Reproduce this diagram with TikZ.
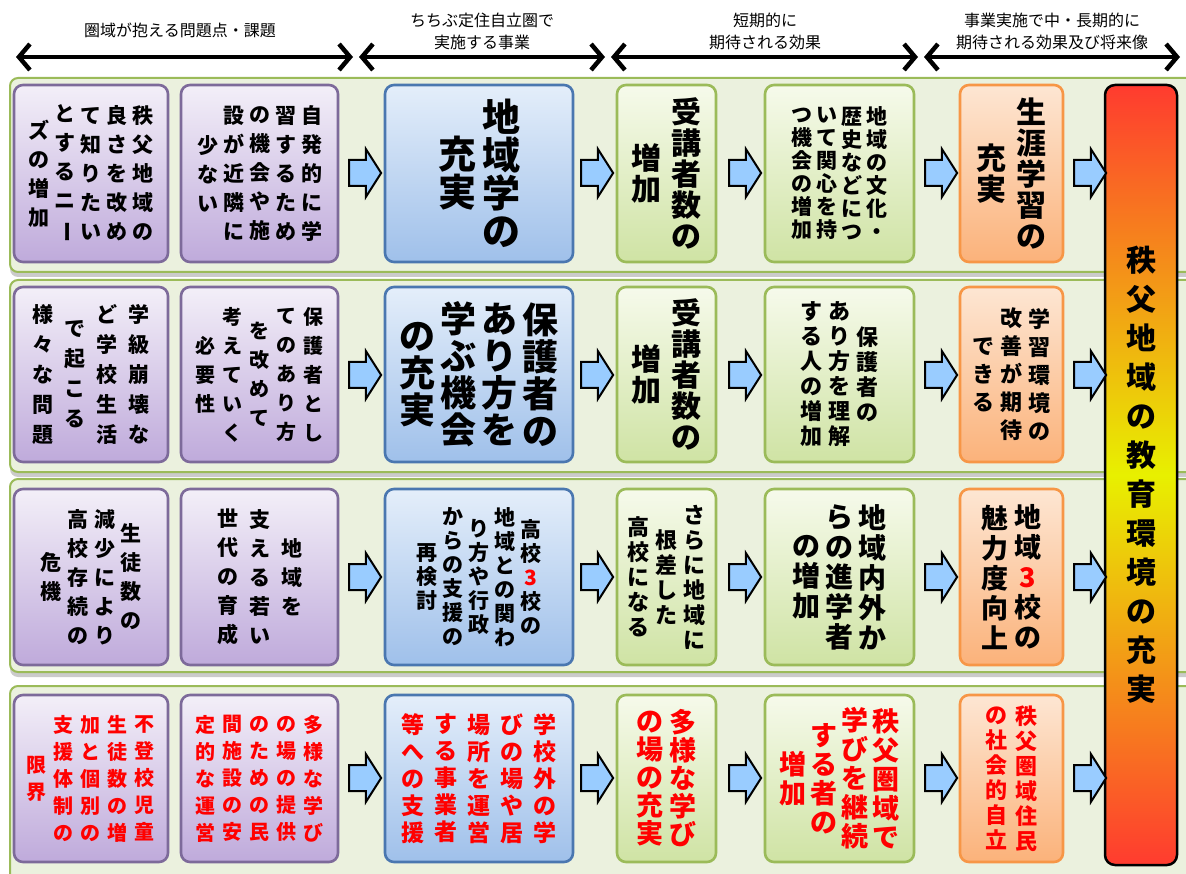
\documentclass[tikz,border=0pt]{standalone}
\usepackage{fontspec}
\setmainfont{Noto Sans CJK JP}
\usepackage{graphicx}
\usetikzlibrary{arrows.meta,shapes.arrows,shadows}
\definecolor{pTop}{HTML}{F3EFF8}
\definecolor{pBot}{HTML}{BFAADB}
\definecolor{pBor}{HTML}{7D6A9A}
\definecolor{bTop}{HTML}{E4EEFA}
\definecolor{bBot}{HTML}{9FC0EA}
\definecolor{bBor}{HTML}{4A77B0}
\definecolor{gTop}{HTML}{F6FAEB}
\definecolor{gBot}{HTML}{CFE3A4}
\definecolor{gBor}{HTML}{9BBB59}
\definecolor{oTop}{HTML}{FDE6D3}
\definecolor{oBot}{HTML}{FBB27A}
\definecolor{oBor}{HTML}{F79646}
\definecolor{bandFill}{HTML}{EBF1DE}
\definecolor{bandBor}{HTML}{9BBB59}
\definecolor{arrFill}{HTML}{99CCFF}
\definecolor{bigRed}{HTML}{FF3B2F}
\definecolor{bigYel}{HTML}{E8F000}
\definecolor{txtRed}{HTML}{FF0000}
\makeatletter
\newbox\tateacc
\newcommand\tatecolx[3]{$\vcenter{\baselineskip=#2\lineskiplimit=-100pt\relax\lineskip=0pt\relax\@tfor\tt@x:=#1\do{\hbox to #3{\hss\tt@x\hss}}}$}
\newcommand\tate[4]{\begingroup\fontsize{#1}{#1}\selectfont\bfseries
  \setbox\tateacc=\hbox{}%
  \@tfor\tt@c:=#4\do{\setbox\tateacc=\hbox{\expandafter\tatecolx\expandafter{\tt@c}{#2}{#1}\ifdim\wd\tateacc>0pt\hskip\dimexpr#3-#1\relax\fi\unhbox\tateacc}}%
  \box\tateacc\endgroup}
\makeatother
\newcommand\nobar{{\rotatebox[origin=c]{-90}{ー}}}
\tikzset{
  band/.style={draw=bandBor, line width=2pt, fill=bandFill, rounded corners=8pt, inner sep=0pt,
     drop shadow={shadow xshift=0pt, shadow yshift=-5pt, fill=black!25, opacity=0.8}},
  tbox/.style={rounded corners=9pt, line width=2.6pt, inner sep=0pt},
  pbox/.style={tbox, draw=pBor, top color=pTop, bottom color=pBot},
  bbox/.style={tbox, draw=bBor, top color=bTop, bottom color=bBot},
  gbox/.style={tbox, draw=gBor, top color=gTop, bottom color=gBot},
  obox/.style={tbox, draw=oBor, top color=oTop, bottom color=oBot},
  bigbox/.style={rounded corners=10pt, line width=2.5pt, draw=black, inner sep=0pt,
     top color=bigRed, bottom color=bigRed, middle color=bigYel},
  barrow/.style={single arrow, draw=black, line width=2pt, fill=arrFill, inner sep=0pt,
     minimum height=32pt, single arrow head extend=11pt, single arrow tip angle=115},
  hdr/.style={font=\fontsize{16}{22}\selectfont, align=center, inner sep=0pt},
  harrow/.style={line width=4.5pt, {Straight Barb[length=11pt,width=26pt]}-{Straight Barb[length=11pt,width=26pt]}},
}
\newcommand\bx[7]{\node[#2, minimum width={#5-#3}, minimum height={#6-#4}] (#1) at ({(#3+#5)/2},{(#4+#6)/2}) {#7};}
\begin{document}
\begin{tikzpicture}[x=1pt,y=-1pt]
\useasboundingbox (0,0) rectangle (1186,874);
\fill[white] (0,0) rectangle (1186,874);
% header
\node[hdr] (h1) at (180,30) {圏域が抱える問題点・課題};
\node[hdr] (h2) at (482,31) {ちちぶ定住自立圏で\\実施する事業};
\node[hdr] (h3) at (765,31) {短期的に\\期待される効果};
\node[hdr] (h4) at (1052,31) {事業実施で中・長期的に\\期待される効果及び将来像};
\coordinate (ha0) at (16,57);
\coordinate (ha1) at (353,57);
\coordinate (ha2) at (359,57);
\coordinate (ha3) at (605,57);
\coordinate (ha4) at (611,57);
\coordinate (ha5) at (918,57);
\coordinate (ha6) at (924,57);
\coordinate (ha7) at (1180,57);
\draw[harrow] (ha0) -- (ha1);
\draw[harrow] (ha2) -- (ha3);
\draw[harrow] (ha4) -- (ha5);
\draw[harrow] (ha6) -- (ha7);
% bands
\bx{band1}{band}{10}{78}{1200}{272}{}
\bx{band2}{band}{10}{280}{1200}{472}{}
\bx{band3}{band}{10}{479}{1200}{672}{}
\bx{band4}{band}{10}{686}{1200}{890}{}
% row 1
\bx{p11}{pbox}{14}{85}{168}{262}{\tate{21pt}{29pt}{26pt}{{秩父地域の}{良さを改め}{て知りたい}{とするニ\nobar}{ズの増加}}}
\bx{p12}{pbox}{181}{85}{338}{262}{\tate{21pt}{29pt}{26pt}{{自発的に学}{習するため}{の機会や施}{設が近隣に}{少ない}}}
\bx{b1}{bbox}{385}{85}{573}{262}{\tate{38pt}{38pt}{44pt}{{地域学の}{充実}}}
\bx{g11}{gbox}{617}{85}{716}{262}{\tate{30pt}{31pt}{40pt}{{受講者数の}{増加}}}
\bx{g12}{gbox}{765}{85}{914}{262}{\tate{21pt}{23pt}{25pt}{{地域の文化・}{歴史などにつ}{いて関心を持}{つ機会の増加}}}
\bx{o1}{obox}{960}{85}{1063}{262}{\tate{30pt}{31pt}{40pt}{{生涯学習の}{充実}}}
% row 2
\bx{p21}{pbox}{14}{287}{168}{462}{\tate{21pt}{30pt}{32pt}{{学級崩壊な}{ど学校生活}{で起こる}{様々な問題}}}
\bx{p22}{pbox}{181}{287}{338}{462}{\tate{20pt}{29pt}{27pt}{{保護者とし}{てのあり方}{を改めて}{考えていく}{必要性}}}
\bx{b2}{bbox}{385}{287}{573}{462}{\tate{36pt}{37pt}{41pt}{{保護者の}{あり方を}{学ぶ機会}{の充実}}}
\bx{g21}{gbox}{617}{287}{716}{462}{\tate{30pt}{31pt}{40pt}{{受講者数の}{増加}}}
\bx{g22}{gbox}{765}{287}{914}{462}{\tate{22pt}{25pt}{28pt}{{保護者の}{あり方を理解}{する人の増加}}}
\bx{o2}{obox}{960}{287}{1063}{462}{\tate{22pt}{28pt}{28pt}{{学習環境の}{改善が期待}{できる}}}
% row 3
\bx{p31}{pbox}{14}{489}{168}{665}{\tate{21pt}{29pt}{27pt}{{生徒数の}{減少により}{高校存続の}{危機}}}
\bx{p32}{pbox}{181}{489}{338}{665}{\tate{21pt}{29pt}{32pt}{{地域を}{支える若い}{世代の育成}}}
\bx{b3}{bbox}{385}{489}{573}{665}{\tate{21pt}{24pt}{26pt}{{高校{\color{txtRed}3}校の}{地域との関わ}{り方や行政}{からの支援の}{再検討}}}
\bx{g31}{gbox}{617}{489}{716}{665}{\tate{22pt}{25pt}{28pt}{{さらに地域に}{根差した}{高校になる}}}
\bx{g32}{gbox}{765}{489}{914}{665}{\tate{28pt}{30pt}{33pt}{{地域内外か}{らの進学者}{の増加}}}
\bx{o3}{obox}{960}{489}{1063}{665}{\tate{27pt}{30pt}{33pt}{{地域{\color{txtRed}3}校の}{魅力度向上}}}
% row 4
\bx{p41}{pbox, text=txtRed}{14}{695}{168}{862}{\tate{20pt}{27pt}{27pt}{{不登校児童}{生徒数の増}{加と個別の}{支援体制の}{限界}}}
\bx{p42}{pbox, text=txtRed}{181}{695}{338}{862}{\tate{20pt}{27pt}{27pt}{{多様な学び}{の場の提供}{のための民}{間施設の安}{定的な運営}}}
\bx{b4}{bbox, text=txtRed}{385}{695}{573}{862}{\tate{23pt}{27pt}{33pt}{{学校外の学}{びの場や居}{場所を運営}{する事業者}{等への支援}}}
\bx{g41}{gbox, text=txtRed}{617}{695}{716}{862}{\tate{27pt}{28pt}{33pt}{{多様な学び}{の場の充実}}}
\bx{g42}{gbox, text=txtRed}{765}{695}{914}{862}{\tate{27pt}{29pt}{31pt}{{秩父圏域で}{学びを継続}{する者の}{増加}}}
\bx{o4}{obox, text=txtRed}{960}{695}{1063}{862}{\tate{22pt}{25pt}{30pt}{{秩父圏域住民}{の社会的自立}}}
% big box
\bx{big}{bigbox}{1105}{85}{1177}{865}{\tate{30pt}{39pt}{30pt}{{秩父地域の教育環境の充実}}}
% arrows
\foreach \r/\yy in {1/173,2/375,3/577,4/778}{
  \node[barrow] (a\r a) at (361,\yy) {\rule{0pt}{24pt}};
  \node[barrow] (a\r b) at (593,\yy) {\rule{0pt}{24pt}};
  \node[barrow] (a\r c) at (741,\yy) {\rule{0pt}{24pt}};
  \node[barrow] (a\r d) at (937,\yy) {\rule{0pt}{24pt}};
  \node[barrow] (a\r e) at (1086,\yy) {\rule{0pt}{24pt}};
}
\end{tikzpicture}
\end{document}
